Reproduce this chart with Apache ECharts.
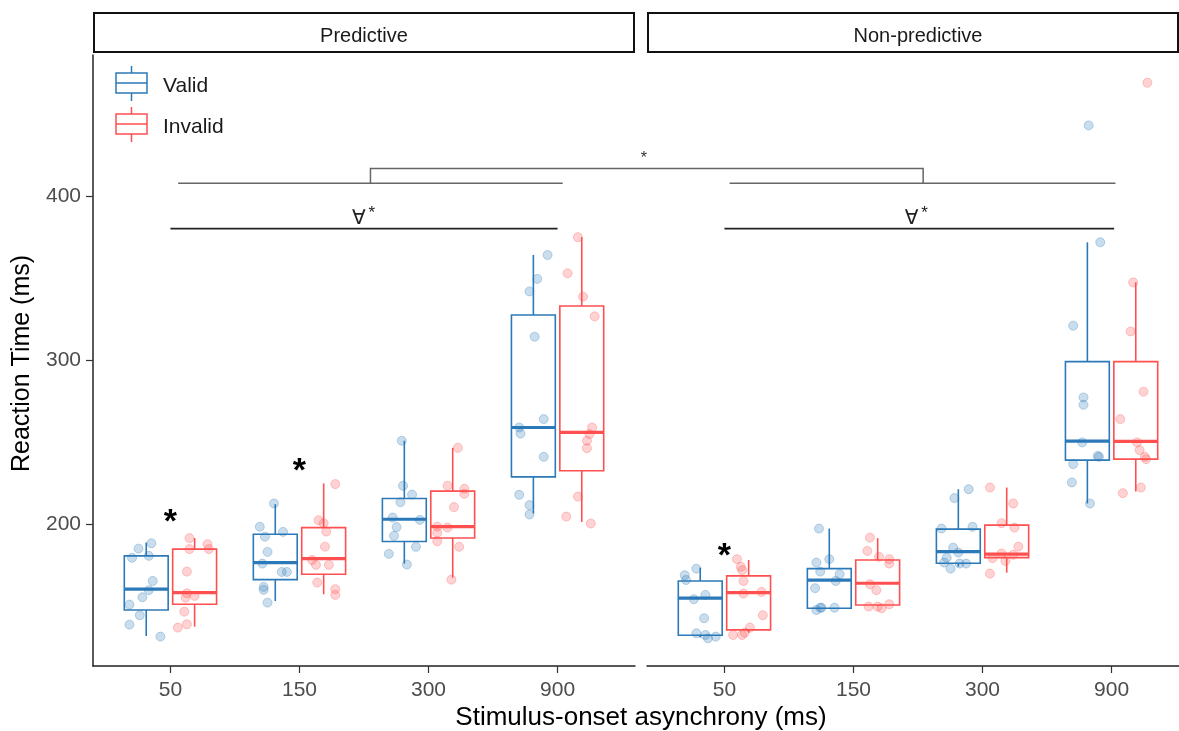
<!DOCTYPE html>
<html><head><meta charset="utf-8">
<script src="https://cdn.jsdelivr.net/npm/echarts@6/dist/echarts.min.js"></script>
<style>html,body{margin:0;padding:0;background:#fff}#c{width:1179px;height:731px}</style>
</head><body><div id="c"></div>
<script>
// ---------------- data ----------------
const categories = ['50', '150', '300', '900'];
const panels = ['Predictive', 'Non-predictive'];
const conditions = ['Valid', 'Invalid'];
const yTicks = [200, 300, 400];
const yRange = [113.6, 485.8];

// box statistics per SOA: [lower whisker, Q1, median, Q3, upper whisker]
const predValidBox = [[131.9,147.7,160.4,180.7,188.8],[153.2,166.2,176.6,193.9,212.2],[176.0,189.4,203.0,215.6,250.8],[206.5,228.8,258.9,327.4,364.0]];
const predInvalidBox = [[137.6,151.2,158.3,184.8,191.5],[157.3,169.5,179.0,197.9,224.8],[167.4,191.6,198.5,220.1,246.5],[201.4,232.5,255.9,332.9,374.8]];
const nonpValidBox = [[131.0,132.3,154.9,165.4,173.5],[148.8,148.8,165.9,172.9,197.3],[174.1,176.2,183.3,197.0,221.3],[212.6,239.0,250.6,299.0,371.7]];
const nonpInvalidBox = [[133.9,135.6,158.3,168.5,178.2],[150.0,150.8,164.0,178.2,191.5],[170.5,179.6,181.7,199.4,222.3],[219.9,239.6,250.4,299.0,347.3]];

// participant reaction times per SOA
const predValidPts = [
  [188.4,185.1,179.5,180.7,165.4,159.8,155.5,151.0,144.5,138.8,131.5],
  [212.6,198.4,195.3,192.4,183.1,176.0,170.9,170.9,161.8,160.0,152.2],
  [250.8,223.4,218.0,213.4,204.0,202.6,198.2,192.9,186.2,181.9,175.4],
  [364.0,349.4,341.8,314.2,264.0,258.9,255.2,241.0,217.9,211.6,205.9]];
const predInvalidPts = [
  [191.5,187.8,184.8,184.8,171.1,157.9,156.3,155.2,146.7,139.0,137.0],
  [224.4,202.4,195.5,186.3,178.2,175.2,175.2,164.4,160.4,156.9,200.6],
  [246.5,223.4,221.5,218.5,210.4,198.5,197.9,194.7,189.6,186.2,166.2],
  [374.8,352.8,338.6,326.6,258.9,254.9,250.8,246.3,216.8,204.6,200.4]];
const nonpValidPts = [
  [172.9,168.9,166.0,156.9,154.3,142.7,133.5,132.5,130.5,131.5],
  [197.3,178.7,176.6,171.1,169.5,165.4,161.0,149.1,147.7,149.1,149.1],
  [221.3,215.9,197.3,198.4,185.7,182.7,179.6,176.6,176.0,176.0,172.9],
  [442.9,371.7,320.9,277.2,272.7,249.8,241.6,241.0,236.6,225.4,212.6]];
const nonpInvalidPts = [
  [178.7,174.0,172.0,165.4,157.7,158.7,144.5,137.0,132.5,132.5,133.9],
  [191.8,183.7,180.1,178.7,176.0,163.4,159.8,149.8,149.8,148.8,151.2],
  [222.3,212.6,200.6,197.9,186.3,182.1,179.3,177.6,181.3,169.9],
  [468.9,347.3,317.4,280.7,264.0,249.8,245.1,241.0,239.6,222.3,218.9]];

// horizontal jitter of each point (category units)
const predValidJit = [
  [0.04,-0.06,-0.11,0.02,0.05,0.02,-0.03,-0.13,-0.05,-0.13,0.11],
  [-0.01,-0.12,0.06,-0.08,-0.06,-0.10,0.05,0.09,-0.09,-0.09,-0.06],
  [-0.02,-0.01,0.06,-0.03,-0.09,0.12,-0.06,-0.08,0.09,-0.12,0.02],
  [0.11,0.03,-0.03,0.01,0.08,-0.11,-0.10,0.08,-0.11,-0.03,-0.03]];
const predInvalidJit = [
  [-0.04,0.10,-0.04,0.11,-0.06,-0.06,0.00,-0.07,-0.08,-0.06,-0.13],
  [0.09,-0.04,0.02,0.01,-0.09,-0.06,0.04,-0.05,0.09,0.09,0.00],
  [0.04,-0.04,0.09,0.09,0.01,-0.12,-0.04,-0.12,-0.12,0.05,-0.01],
  [-0.03,-0.11,0.01,0.10,0.08,0.06,0.04,0.04,-0.03,-0.12,0.07]];
const nonpValidJit = [
  [-0.03,-0.12,-0.11,0.04,-0.05,0.03,-0.03,0.04,0.06,0.12],
  [-0.08,0.00,-0.10,-0.07,0.08,0.05,-0.11,-0.07,-0.10,0.04,-0.06],
  [0.08,-0.03,-0.13,0.11,-0.04,0.00,-0.09,-0.11,0.01,0.06,-0.06],
  [0.01,0.10,-0.11,-0.03,-0.03,-0.04,0.08,0.09,-0.11,-0.12,0.02]];
const nonpInvalidJit = [
  [-0.09,-0.06,-0.05,-0.04,-0.04,0.10,0.11,0.01,-0.12,-0.05,-0.03],
  [-0.06,-0.08,0.01,0.09,0.09,-0.06,-0.01,-0.07,0.00,0.03,0.09],
  [-0.13,0.05,-0.04,0.06,0.09,-0.04,-0.11,-0.01,0.05,-0.13],
  [0.09,-0.02,-0.04,0.06,-0.12,0.01,0.03,0.07,0.08,0.04,-0.10]];

// significance annotations (data units): [panel, x1, x2, y]
const forallLines = [[0, 1, 4, 380], [1, 1, 4.02, 380]];
const contrastLines = [[0, 1.06, 4.04, 407.6], [1, 1.04, 4.03, 407.6]];
const crossBracket = { leftX: 2.55, rightX: 2.54, low: 407.6, high: 416.7, starY: 424.6 };
const forallLabels = [[0, 2.46, 386], [1, 2.45, 386]];   // [panel, x, y]
const starLabels = [[0, 1, 206], [0, 2, 237], [1, 1, 185]];

// ---------------- chart ----------------
const FONT = '"Liberation Sans", Arial, sans-serif';
const DODGE = 0.1875, BOX_W = 0.34;
const COLORS = { Valid: '#2B79B8', Invalid: '#FF4F4F' };
const FILLS = { Valid: 'rgba(43,121,184,0.25)', Invalid: 'rgba(255,79,79,0.25)' };
const EDGES = { Valid: 'rgba(43,121,184,0.3)', Invalid: 'rgba(255,79,79,0.3)' };
const boxes = { 'Predictive': { Valid: predValidBox, Invalid: predInvalidBox },
                'Non-predictive': { Valid: nonpValidBox, Invalid: nonpInvalidBox } };
const pts = { 'Predictive': { Valid: [predValidPts, predValidJit], Invalid: [predInvalidPts, predInvalidJit] },
              'Non-predictive': { Valid: [nonpValidPts, nonpValidJit], Invalid: [nonpInvalidPts, nonpInvalidJit] } };

const CHART_W = 1179;
const GRID_TOP = 55, GRID_H = 611, PANEL_W = 542;
const gridLeft = [93, 647];
const X_MIN = 0.4, X_SPAN = 4.2;
// the right panel is cut by the image edge: show only the part that fits
const gridWidth = gridLeft.map(l => Math.min(PANEL_W, CHART_W - l));
const xMax = gridWidth.map(w => X_MIN + X_SPAN * w / PANEL_W);

function boxRender(color) {
  return function (params, api) {
    const x = api.value(0);
    const lo = api.coord([x, api.value(1)]);
    const q1 = api.coord([x, api.value(2)]);
    const md = api.coord([x, api.value(3)]);
    const q3 = api.coord([x, api.value(4)]);
    const hi = api.coord([x, api.value(5)]);
    const hw = api.size([BOX_W, 0])[0] / 2;
    const cx = lo[0];
    return { type: 'group', children: [
      { type: 'line', shape: { x1: cx, y1: lo[1], x2: cx, y2: q1[1] }, style: { stroke: color, lineWidth: 1.6 } },
      { type: 'line', shape: { x1: cx, y1: q3[1], x2: cx, y2: hi[1] }, style: { stroke: color, lineWidth: 1.6 } },
      { type: 'rect', shape: { x: cx - hw, y: q3[1], width: 2 * hw, height: q1[1] - q3[1] }, style: { fill: 'rgba(255,255,255,0)', stroke: color, lineWidth: 1.6 } },
      { type: 'line', shape: { x1: cx - hw, y1: md[1], x2: cx + hw, y2: md[1] }, style: { stroke: color, lineWidth: 3.2 } }
    ] };
  };
}

const series = [];
panels.forEach((p, pi) => {
  conditions.forEach((c, ci) => {
    const off = ci === 0 ? -DODGE : DODGE;
    series.push({
      name: c + ' box ' + pi, type: 'custom', xAxisIndex: pi, yAxisIndex: pi, silent: true, z: 2,
      renderItem: boxRender(COLORS[c]),
      encode: { x: 0, y: [1, 2, 3, 4, 5] },
      data: boxes[p][c].map((b, i) => [i + 1 + off].concat(b))
    });
    const [vals, jit] = pts[p][c];
    const data = [];
    vals.forEach((arr, i) => arr.forEach((v, k) => data.push([i + 1 + off + jit[i][k], v])));
    series.push({
      name: c + ' pts ' + pi, type: 'scatter', xAxisIndex: pi, yAxisIndex: pi, silent: true, z: 3,
      symbol: 'circle', symbolSize: 9,
      itemStyle: { color: FILLS[c], borderColor: EDGES[c], borderWidth: 1, opacity: 1 },
      data
    });
  });
});

// annotation lines
function lineRender(color, width) {
  return function (params, api) {
    const a = api.coord([api.value(0), api.value(2)]);
    const b = api.coord([api.value(1), api.value(2)]);
    return { type: 'line', shape: { x1: a[0], y1: a[1], x2: b[0], y2: b[1] }, style: { stroke: color, lineWidth: width } };
  };
}
[0, 1].forEach(pi => {
  series.push({ type: 'custom', xAxisIndex: pi, yAxisIndex: pi, silent: true, z: 5, clip: false,
    renderItem: lineRender('#222', 1.8),
    data: forallLines.filter(d => d[0] === pi).map(d => d.slice(1)) });
  series.push({ type: 'custom', xAxisIndex: pi, yAxisIndex: pi, silent: true, z: 5, clip: false,
    renderItem: lineRender('#666', 1.5),
    data: contrastLines.filter(d => d[0] === pi).map(d => d.slice(1)) });
  series.push({ type: 'custom', xAxisIndex: pi, yAxisIndex: pi, silent: true, z: 6, clip: false,
    renderItem: function (params, api) {
      const c = api.coord([api.value(0), api.value(1)]);
      return { type: 'group', children: [
        { type: 'text', x: c[0], y: c[1], style: { text: '∀', fontSize: 20, fontFamily: 'DejaVu Sans', fill: '#222', align: 'center', verticalAlign: 'middle' } },
        { type: 'text', x: c[0] + 13, y: c[1] - 6, style: { text: '*', fontSize: 17, fontFamily: FONT, fill: '#222', align: 'center', verticalAlign: 'middle' } }
      ] };
    },
    data: forallLabels.filter(d => d[0] === pi).map(d => d.slice(1)) });
  series.push({ type: 'custom', xAxisIndex: pi, yAxisIndex: pi, silent: true, z: 6, clip: false,
    renderItem: function (params, api) {
      const c = api.coord([api.value(0), api.value(1)]);
      return { type: 'text', x: c[0], y: c[1] + 8, style: { text: '*', fontSize: 34, fontWeight: 'bold', fontFamily: FONT, fill: '#000', align: 'center', verticalAlign: 'middle' } };
    },
    data: starLabels.filter(d => d[0] === pi).map(d => d.slice(1)) });
});

const xAxes = [0, 1].map(pi => ({
  type: 'value', gridIndex: pi, min: X_MIN, max: xMax[pi],
  splitLine: { show: false },
  axisLine: { show: true, onZero: false, lineStyle: { color: '#222', width: 1.5 } },
  axisTick: { show: true, length: 7, customValues: [1, 2, 3, 4], lineStyle: { color: '#333', width: 1.2 } },
  axisLabel: { show: true, customValues: [1, 2, 3, 4], margin: 14, fontSize: 21, color: '#4D4D4D', fontFamily: FONT,
    formatter: v => categories[Math.round(v) - 1] || '' },
  minorTick: { show: false }
}));
const yAxes = [0, 1].map(pi => ({
  type: 'value', gridIndex: pi, min: yRange[0], max: yRange[1],
  splitLine: { show: false },
  axisLine: { show: pi === 0, onZero: false, lineStyle: { color: '#222', width: 1.5 } },
  axisTick: { show: pi === 0, length: 7, customValues: yTicks, lineStyle: { color: '#333', width: 1.2 } },
  axisLabel: { show: pi === 0, customValues: yTicks, margin: 12, fontSize: 21, color: '#4D4D4D', fontFamily: FONT }
}));

const chart = echarts.init(document.getElementById('c'), null, { renderer: 'canvas' });
const legendItems = conditions.map((c, i) => {
  const y0 = 73 + i * 41;
  return { type: 'group', children: [
    { type: 'line', shape: { x1: 131.5, y1: y0 - 7, x2: 131.5, y2: y0 }, style: { stroke: COLORS[c], lineWidth: 1.5 } },
    { type: 'line', shape: { x1: 131.5, y1: y0 + 20, x2: 131.5, y2: y0 + 28 }, style: { stroke: COLORS[c], lineWidth: 1.5 } },
    { type: 'rect', shape: { x: 116, y: y0, width: 31, height: 20 }, style: { fill: '#fff', stroke: COLORS[c], lineWidth: 1.5 } },
    { type: 'line', shape: { x1: 116, y1: y0 + 10, x2: 147, y2: y0 + 10 }, style: { stroke: COLORS[c], lineWidth: 1.5 } },
    { type: 'text', x: 163, y: y0 + 13, style: { text: c, fontSize: 21, fontFamily: FONT, fill: '#1a1a1a', verticalAlign: 'middle' } }
  ] };
});
const strips = panels.map((p, pi) => ({ type: 'group', children: [
  { type: 'rect', shape: { x: gridLeft[pi] + 1, y: 13, width: gridWidth[pi] - 2, height: 39 }, style: { fill: '#fff', stroke: '#111', lineWidth: 2 } },
  { type: 'text', x: gridLeft[pi] + PANEL_W / 2, y: 36, style: { text: p, fontSize: 20, fontFamily: FONT, fill: '#1a1a1a', align: 'center', verticalAlign: 'middle' } }
] }));
const titles = [
  { type: 'text', x: gridLeft[0] + (gridLeft[1] + PANEL_W - gridLeft[0]) / 2, y: 718, style: { text: 'Stimulus-onset asynchrony (ms)', fontSize: 26, fontFamily: FONT, fill: '#000', align: 'center', verticalAlign: 'middle' } },
  { type: 'text', x: 22, y: GRID_TOP + GRID_H / 2 + 3, rotation: Math.PI / 2, style: { text: 'Reaction Time (ms)', fontSize: 25, fontFamily: FONT, fill: '#000', align: 'center', verticalAlign: 'middle' } }
];

chart.setOption({
  animation: false,
  backgroundColor: '#fff',
  grid: [0, 1].map(pi => ({ left: gridLeft[pi], top: GRID_TOP, width: gridWidth[pi], height: GRID_H, containLabel: false })),
  xAxis: xAxes,
  yAxis: yAxes,
  series,
  graphic: strips.concat(legendItems).concat(titles)
});

// cross-panel bracket, placed through the two grids' own scales
const pL0 = chart.convertToPixel({ gridIndex: 0 }, [crossBracket.leftX, crossBracket.low]);
const pL1 = chart.convertToPixel({ gridIndex: 0 }, [crossBracket.leftX, crossBracket.high]);
const pR0 = chart.convertToPixel({ gridIndex: 1 }, [crossBracket.rightX, crossBracket.low]);
const pR1 = chart.convertToPixel({ gridIndex: 1 }, [crossBracket.rightX, crossBracket.high]);
const pStar = chart.convertToPixel({ gridIndex: 0 }, [crossBracket.leftX, crossBracket.starY]);
chart.setOption({
  graphic: strips.concat(legendItems).concat(titles).concat([
    { type: 'polyline', shape: { points: [pL0, pL1, pR1, pR0] }, style: { stroke: '#666', lineWidth: 1.5, fill: null }, z: 10 },
    { type: 'text', x: (pL1[0] + pR1[0]) / 2 - 3, y: pStar[1] + 3, style: { text: '*', fontSize: 16, fontFamily: FONT, fill: '#333', align: 'center', verticalAlign: 'middle' }, z: 10 }
  ])
});
</script>
</body></html>
